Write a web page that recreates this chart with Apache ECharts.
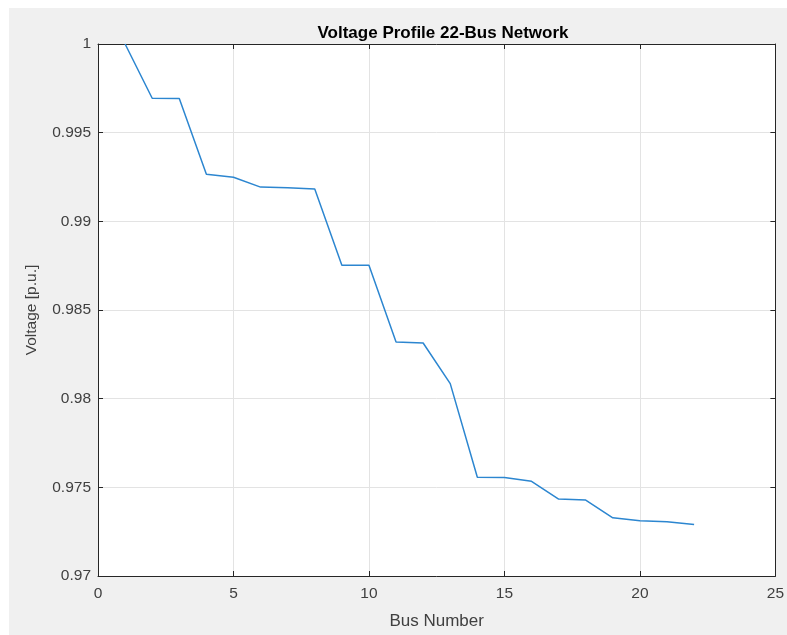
<!DOCTYPE html>
<html>
<head>
<meta charset="utf-8">
<script src="https://cdn.jsdelivr.net/npm/echarts@6/dist/echarts.min.js"></script>
<style>
html{margin:0;padding:0;height:100%;overflow:hidden;
  background:linear-gradient(#ffffff,#ffffff) no-repeat 0 0 / 100% 8px,
             linear-gradient(#ffffff,#ffffff) no-repeat 0 0 / 9px 100%,
             #f0f0f0;}
body{margin:0;padding:0;background:transparent;}
#c{width:787px;height:635px;}
</style>
</head>
<body>
<div id="c"></div>
<script>
const busNumbers = [1,2,3,4,5,6,7,8,9,10,11,12,13,14,15,16,17,18,19,20,21,22];
const voltages = [1.0,0.99694,0.99693,0.99265,0.99249,0.99193,0.99190,0.99182,0.98753,0.98752,0.98319,0.98314,0.98085,0.97557,0.97556,0.97534,0.97434,0.97428,0.97328,0.97312,0.97306,0.97290];
const xTicks = [0,5,10,15,20,25];
const yTicks = [0.97,0.975,0.98,0.985,0.99,0.995,1];

const font = "'Liberation Sans', Arial, Helvetica, sans-serif";
const axisColor = '#262626';
const labelColor = '#404040';
const chart = echarts.init(document.getElementById('c'));
const base = {
  axisTick:{show:true,inside:true,length:5,lineStyle:{color:axisColor}},
  splitLine:{show:false},
  axisLabel:{show:false},
  axisLine:{show:true,onZero:false,lineStyle:{color:axisColor,width:1}}
};
chart.setOption({
  backgroundColor:'transparent',
  animation:false,
  title:{text:'Voltage Profile 22-Bus Network',left:438,top:20,textAlign:'center',
    textStyle:{fontFamily:font,fontSize:17,fontWeight:'bold',color:'#000'}},
  grid:{left:98,right:8,top:44,bottom:52,show:true,backgroundColor:'#fff',borderWidth:0},
  xAxis:[{
    type:'value',min:0,max:25,interval:5,position:'bottom',
    name:'Bus Number',nameLocation:'middle',nameGap:37,
    nameTextStyle:{fontFamily:font,fontSize:17,color:labelColor},
    axisLine:{show:true,onZero:false,lineStyle:{color:axisColor,width:1}},
    axisTick:{show:true,inside:true,length:5,lineStyle:{color:axisColor}},
    axisLabel:{show:true,margin:10,fontFamily:font,fontSize:15.5,color:labelColor,
      formatter:v=>xTicks.includes(v)?String(v):''},
    splitLine:{show:true,lineStyle:{color:'#e3e3e3',width:1}}
  },{
    type:'value',min:0,max:25,interval:5,position:'top',...base
  }],
  yAxis:[{
    type:'value',min:0.97,max:1,interval:0.005,position:'left',
    name:'Voltage [p.u.]',nameLocation:'middle',nameGap:58,
    nameTextStyle:{fontFamily:font,fontSize:15.5,color:labelColor},
    axisLine:{show:true,onZero:false,lineStyle:{color:axisColor,width:1}},
    axisTick:{show:true,inside:true,length:5,lineStyle:{color:axisColor}},
    axisLabel:{show:true,margin:7,fontFamily:font,fontSize:15.5,color:labelColor,
      formatter:v=>{const r=Math.round(v*1000)/1000; return yTicks.some(t=>Math.abs(t-r)<1e-9)?(r===1?'1':String(r)):'';}},
    splitLine:{show:true,lineStyle:{color:'#e3e3e3',width:1}}
  },{
    type:'value',min:0.97,max:1,interval:0.005,position:'right',...base
  }],
  series:[{
    type:'line',xAxisIndex:0,yAxisIndex:0,
    data:busNumbers.map((b,i)=>[b,voltages[i]]),
    showSymbol:false,symbol:'none',
    lineStyle:{color:'#2c86d0',width:1.5},
    clip:true
  }]
});
</script>
</body>
</html>
